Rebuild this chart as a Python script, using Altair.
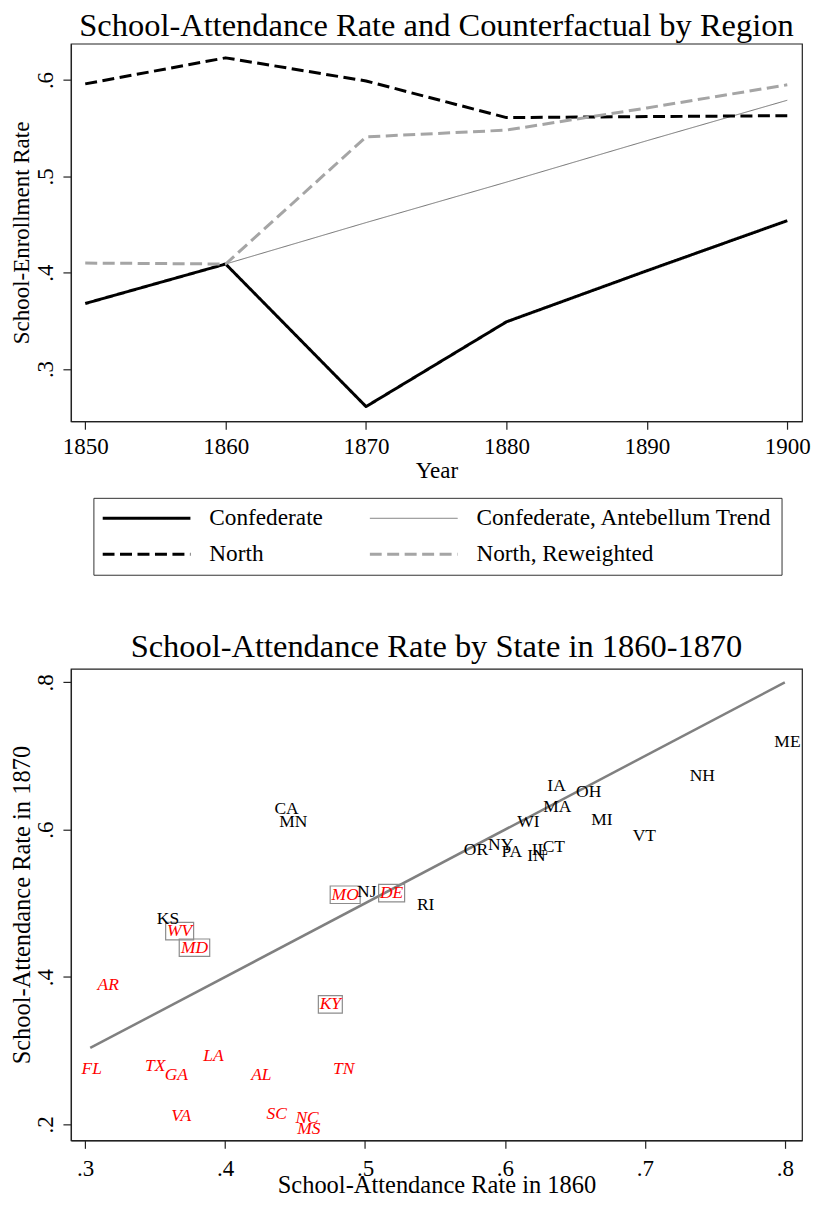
import altair as alt
import pandas as pd

FONT = "Liberation Serif"

# ---------------- Top panel data ----------------
years = [1850, 1860, 1870, 1880, 1890, 1900]
confederate = [0.368, 0.409, 0.261, 0.349, 0.402, 0.454]
north = [0.596, 0.623, 0.599, 0.561, 0.562, 0.563]
north_reweighted = [0.410, 0.409, 0.541, 0.548, 0.571, 0.595]
trend_years = [1860, 1870, 1880, 1890, 1900]
confederate_trend = [0.409, 0.452, 0.494, 0.537, 0.579]

# legend order (legend fills column by column)
series_order = ["Confederate", "North", "Confederate, Antebellum Trend", "North, Reweighted"]

# ---------------- Bottom panel data ----------------
states = ["AR", "FL", "TX", "GA", "LA", "AL", "TN", "VA", "SC", "NC", "MS",
          "MO", "DE", "WV", "MD", "KY",
          "KS", "NJ", "RI", "CA", "MN", "ME", "NH", "IA", "OH", "MA", "MI",
          "WI", "VT", "OR", "NY", "PA", "IL", "IN", "CT"]
rate_1860 = [0.3165, 0.3047, 0.3501, 0.3651, 0.3916, 0.4259, 0.4847, 0.3686, 0.4368, 0.4586, 0.4598,
             0.4858, 0.5190, 0.3675, 0.3781, 0.4752,
             0.3592, 0.5012, 0.5433, 0.4439, 0.4487, 0.8019, 0.7410, 0.6369, 0.6598, 0.6374, 0.6693,
             0.6168, 0.6996, 0.5793, 0.5969, 0.6049, 0.6250, 0.6225, 0.6349]
rate_1870 = [0.3896, 0.2756, 0.2787, 0.2674, 0.2923, 0.2665, 0.2756, 0.2114, 0.2145, 0.2087, 0.1942,
             0.5117, 0.5140, 0.4624, 0.4398, 0.3628,
             0.4790, 0.5153, 0.4972, 0.6284, 0.6103, 0.7197, 0.6727, 0.6600, 0.6518, 0.6307, 0.6134,
             0.6103, 0.5921, 0.5731, 0.5795, 0.5704, 0.5725, 0.5643, 0.5772]
region = (["Confederate"] * 11 + ["Border"] * 5 + ["North"] * 19)

fit_x = [0.3036, 0.8000]
fit_y = [0.3037, 0.8000]

# ---------------- styles ----------------
W = 732
box_width = {"MO": 30, "DE": 26, "WV": 28, "MD": 30.5, "KY": 24}
box_height = 17.5
THIN = "Confederate, Antebellum Trend"

rows = []
for name, xs_, ys_ in [("Confederate", years, confederate),
                       ("Confederate, Antebellum Trend", trend_years, confederate_trend),
                       ("North", years, north),
                       ("North, Reweighted", years, north_reweighted)]:
    for a, b in zip(xs_, ys_):
        rows.append({"year": a, "rate": b, "series": name})
top_df = pd.DataFrame(rows)

state_df = pd.DataFrame({"state": states, "r1860": rate_1860, "r1870": rate_1870, "region": region})
fit_df = pd.DataFrame({"r1860": fit_x, "r1870": fit_y})

legend = alt.Legend(
    title=None, orient="none", legendX=22.5, legendY=454.7, columns=2,
    symbolType="stroke", symbolSize=7744, clipHeight=23, symbolOffset=32.5,
    labelOffset=51.2, columnPadding=46.5, rowPadding=12, padding=9,
    strokeColor="#333333", fillColor="white", labelFont=FONT, labelFontSize=23.3,
    labelColor="black", labelLimit=0,
    labelExpr=f"datum.label === '{THIN}' ? datum.label + '\u00a0' : datum.label",
    symbolStrokeWidth={"expr": f"datum.value === '{THIN}' ? 1 : 3"},
)

color_scale = alt.Scale(domain=series_order, range=["#000000", "#000000", "#707070", "#a5a5a5"])
dash_scale = alt.Scale(domain=series_order, range=[[1, 0], [12, 5.5], [1, 0], [12, 5.5]])

top = alt.Chart(top_df).mark_line(strokeJoin="round").encode(
    x=alt.X("year:Q",
            scale=alt.Scale(domain=[1848.98, 1901.05], nice=False, zero=False),
            axis=alt.Axis(values=years, format="d", title="Year", labelPadding=6.5,
                          titleBaseline="alphabetic", titleX=W / 2, titleY=56.3,
                          titleAlign="center")),
    y=alt.Y("rate:Q",
            scale=alt.Scale(domain=[0.2458, 0.6377], nice=False, zero=False),
            axis=alt.Axis(values=[0.3, 0.4, 0.5, 0.6],
                          labelExpr="substring(format(datum.value, '.1f'), 1)",
                          title="School-Enrollment Rate", labelAngle=270,
                          labelAlign="center", labelBaseline="alphabetic",
                          labelPadding=10.5, titleAngle=270, titleBaseline="alphabetic",
                          titleX=-42.5, titleY=189, titleAlign="center")),
    color=alt.Color("series:N", scale=color_scale, legend=legend),
    strokeDash=alt.StrokeDash("series:N", scale=dash_scale, legend=legend),
    strokeWidth=alt.condition(alt.datum.series == THIN, alt.value(1), alt.value(3)),
).properties(
    width=W, height=378,
    title=alt.Title("School-Attendance Rate and Counterfactual by Region", font=FONT,
                    fontSize=32.5, fontWeight="normal", color="black", anchor="middle",
                    frame="group", offset=1),
)

xs = alt.Scale(domain=[0.2898, 0.8123], nice=False, zero=False)
ys = alt.Scale(domain=[0.1783, 0.8183], nice=False, zero=False)
x_enc = alt.X("r1860:Q", scale=xs,
              axis=alt.Axis(values=[0.3, 0.4, 0.5, 0.6, 0.7, 0.8],
                            labelExpr="substring(format(datum.value, '.1f'), 1)",
                            title="School-Attendance Rate in 1860", labelPadding=9,
                            titleFontSize=24.5, titleBaseline="alphabetic",
                            titleX=W / 2, titleY=52, titleAlign="center"))
y_enc = alt.Y("r1870:Q", scale=ys,
              axis=alt.Axis(values=[0.2, 0.4, 0.6, 0.8],
                            labelExpr="substring(format(datum.value, '.1f'), 1)",
                            title="School-Attendance Rate in 1870", labelAngle=270,
                            labelAlign="center", labelBaseline="alphabetic",
                            labelPadding=10.5, titleAngle=270, titleBaseline="alphabetic",
                            titleFontSize=24.5, titleX=-41.5, titleY=236, titleAlign="center"))

fit = alt.Chart(fit_df).mark_line(color="#808080", strokeWidth=2.5).encode(x=x_enc, y=y_enc)

box_layers = []
for st, w in box_width.items():
    k = box_height / w
    path = f"M-1,-{k:.4f}H1V{k:.4f}H-1Z"
    box_layers.append(
        alt.Chart(state_df).transform_filter(alt.datum.state == st).mark_point(
            shape=path, size=w * w, filled=False, stroke="#8c8c8c", strokeWidth=1.2, opacity=1
        ).encode(x=x_enc, y=y_enc)
    )

south_text = alt.Chart(state_df).transform_filter(alt.datum.region != "North").mark_text(
    font=FONT, fontSize=17.5, fontStyle="italic", color="#ff0000", align="center", baseline="middle"
).encode(x=x_enc, y=y_enc, text="state:N")

north_text = alt.Chart(state_df).transform_filter(alt.datum.region == "North").mark_text(
    font=FONT, fontSize=17.5, color="#000000", align="center", baseline="middle"
).encode(x=x_enc, y=y_enc, text="state:N")

bottom = alt.layer(fit, *box_layers, north_text, south_text).properties(
    width=W, height=472,
    title=alt.Title("School-Attendance Rate by State in 1860-1870", font=FONT,
                    fontSize=32.5, fontWeight="normal", color="black", anchor="middle",
                    frame="group", offset=5),
)

chart = alt.vconcat(top, bottom, spacing=147).properties(
    padding={"left": 0, "top": 0, "right": 0, "bottom": 0}
).configure_view(
    stroke="#222222", strokeWidth=1.2
).configure_axis(
    domainColor="#222222", domainWidth=1.2, tickColor="#222222", tickWidth=1.2,
    tickSize=8, grid=False, labelFont=FONT, labelFontSize=23, labelColor="black",
    titleFont=FONT, titleFontSize=23, titleFontWeight="normal", titleColor="black",
)

chart.save("out.html", embed_options={"renderer": "svg", "actions": False})
